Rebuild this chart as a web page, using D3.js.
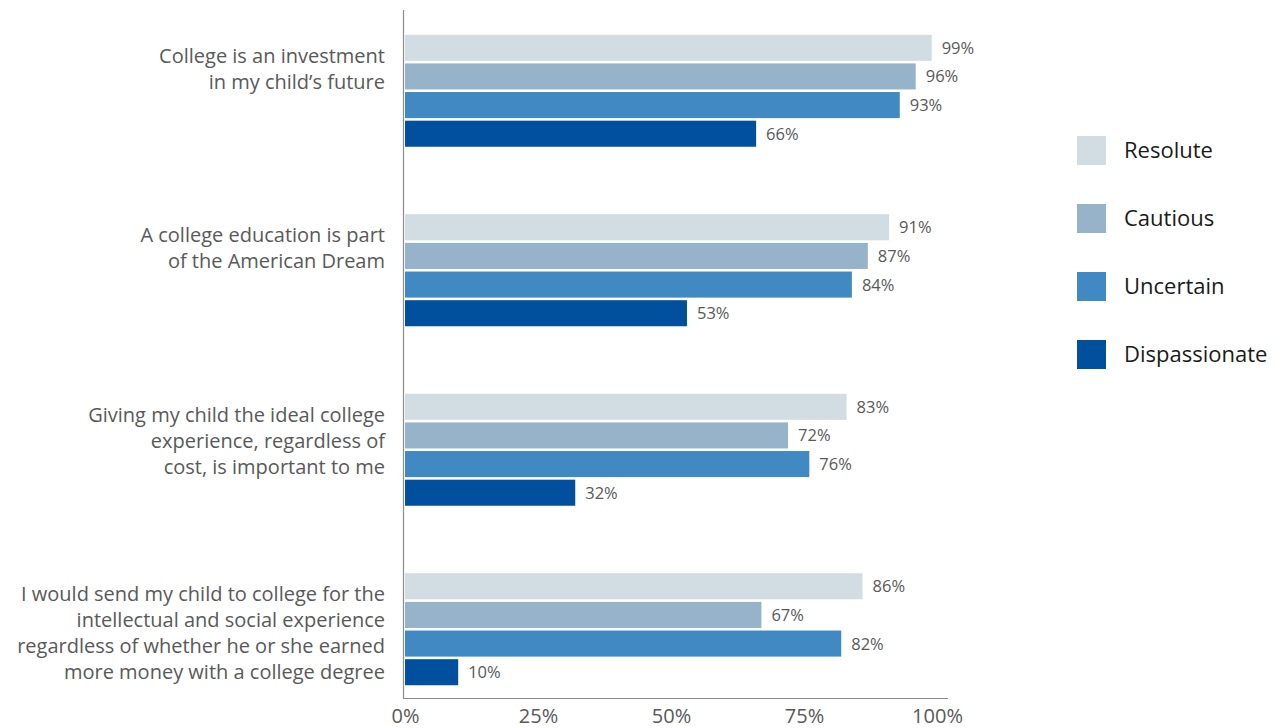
<!DOCTYPE html>
<html><head><meta charset="utf-8">
<script src="https://cdn.jsdelivr.net/npm/d3@7"></script>
<style>body{margin:0;background:#fff}svg{display:block}text{font-family:"Open Sans",sans-serif}</style>
</head><body>
<svg id="c" width="1280" height="728"></svg>
<script>
const categories = [
  ["College is an investment","in my child\u2019s future"],
  ["A college education is part","of the American Dream"],
  ["Giving my child the ideal college","experience, regardless of","cost, is important to me"],
  ["I would send my child to college for the","intellectual and social experience","regardless of whether he or she earned","more money with a college degree"]
];
const seriesNames = ["Resolute","Cautious","Uncertain","Dispassionate"];
const resolute = [99, 91, 83, 86];
const cautious = [96, 87, 72, 67];
const uncertain = [93, 84, 76, 82];
const dispassionate = [66, 53, 32, 10];
const colors = ["#D1DCE3","#97B3CA","#4189C3","#00509D"];
const tickValues = [0, 25, 50, 75, 100];

const values = [resolute, cautious, uncertain, dispassionate];
const FONT = "'Open Sans',sans-serif";
const svg = d3.select("#c");
const x = d3.scaleLinear().domain([0,100]).range([405,937]);
const y0 = d3.scaleBand().domain(d3.range(categories.length)).range([1,719]).padding(0);
const y1 = d3.scaleBand().domain(seriesNames).range([0,112]).paddingInner(0.09).paddingOuter(0);

const g = svg.append("g");
categories.forEach((cat, ci) => {
  const cy = y0(ci) + y0.bandwidth()/2;
  const top = cy - 56;
  seriesNames.forEach((s, si) => {
    const v = values[si][ci];
    const yy = top + y1(s);
    g.append("rect").attr("x", x(0)).attr("y", yy).attr("width", x(v)-x(0)).attr("height", y1.bandwidth()).attr("fill", colors[si]);
    g.append("text").attr("x", x(v)+10).attr("y", yy + y1.bandwidth()/2).attr("dy","0.36em")
      .attr("font-size", 16.5).attr("fill", "#595959").text(v + "%");
  });
  const lh = 26;
  const t = g.append("text").attr("text-anchor","end").attr("font-size",20).attr("fill","#595959");
  cat.forEach((line, li) => {
    t.append("tspan").attr("x", 385).attr("y", top + 21 + li*lh).attr("dy","0.36em").text(line);
  });
});

// axes
svg.append("line").attr("x1",403.5).attr("x2",403.5).attr("y1",10).attr("y2",698).attr("stroke","#8c8c8c").attr("stroke-width",1.2);
svg.append("line").attr("x1",403).attr("x2",948).attr("y1",698.5).attr("y2",698.5).attr("stroke","#8c8c8c").attr("stroke-width",1.2);
const xa = svg.append("g").attr("transform","translate(0,698)")
  .call(d3.axisBottom(x).tickValues(tickValues).tickSize(0).tickPadding(9).tickFormat(d => d + "%"));
xa.select(".domain").remove();
xa.selectAll("text").attr("font-size",20).attr("fill","#595959").style("font-family",FONT).attr("dy","0.8em");

// legend
const lg = svg.append("g");
seriesNames.forEach((s, i) => {
  const yy = 136 + i*68;
  lg.append("rect").attr("x",1077).attr("y",yy).attr("width",29).attr("height",29).attr("fill",colors[i]);
  lg.append("text").attr("x",1124).attr("y",yy+14.5).attr("dy","0.36em").attr("font-size",22).attr("fill","#1a1a1a").text(s);
});
</script>
</body></html>
